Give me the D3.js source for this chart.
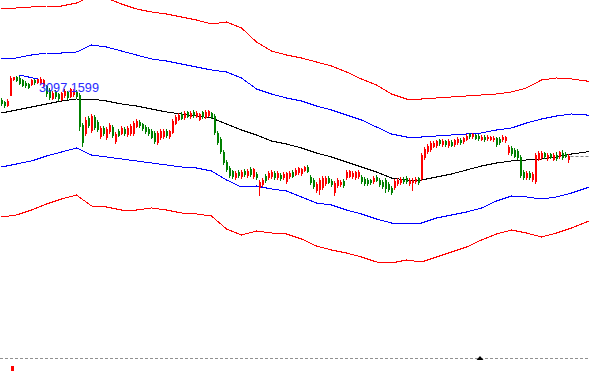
<!DOCTYPE html>
<html>
<head>
<meta charset="utf-8">
<script src="https://cdn.jsdelivr.net/npm/d3@7"></script>
<style>
  html, body { margin: 0; padding: 0; background: #fff; }
  svg { display: block; }
</style>
</head>
<body>
<svg id="chart"></svg>
<script>
// candles, one per bar, oldest first
const open = [
  3073, 3071, 3067, 3077, 3093, 3096, 3095, 3093, 3090, 3089,
  3088, 3093, 3090, 3089, 3087, 3087, 3083, 3074, 3081, 3079,
  3073, 3077, 3081, 3076, 3078, 3081, 3078, 3048, 3039, 3055,
  3042, 3056, 3051, 3036, 3045, 3035, 3041, 3046, 3031, 3042,
  3039, 3044, 3038, 3039, 3039, 3046, 3051, 3049, 3046, 3044,
  3042, 3040, 3030, 3035, 3036, 3042, 3036, 3040, 3049, 3053,
  3059, 3055, 3061, 3056, 3061, 3056, 3053, 3061, 3055, 3057,
  3060, 3057, 3040, 3034, 3021, 3011, 3005, 3002, 2995, 3001,
  2996, 3002, 2997, 3004, 2996, 2999, 2985, 2988, 2997, 2995,
  2996, 3000, 2995, 2998, 2995, 2991, 2996, 3001, 2998, 3000,
  2999, 3002, 3006, 2996, 2993, 2982, 2983, 2985, 2989, 2995,
  2992, 2980, 2987, 2988, 2992, 2995, 2996, 2996, 2995, 2996,
  2996, 2994, 2993, 2993, 2991, 2996, 2993, 2991, 2993, 2989,
  2985, 2985, 2989, 2990, 2994, 2995, 2989, 2990, 2991, 2995,
  2994, 3015, 3021, 3023, 3026, 3027, 3033, 3028, 3032, 3027,
  3031, 3028, 3030, 3033, 3031, 3033, 3039, 3036, 3038, 3037,
  3033, 3036, 3034, 3033, 3033, 3035, 3034, 3033, 3032, 3020,
  3025, 3023, 3022, 3016, 3001, 2995, 3000, 2993, 2991, 3013,
  3015, 3020, 3014, 3019, 3013, 3018, 3016, 3020, 3019, 3013
];
const high = [
  3075, 3072, 3074, 3097.1599, 3096, 3097, 3097, 3094, 3092, 3090,
  3094, 3094, 3095, 3096, 3094, 3088, 3085, 3082, 3083, 3080,
  3081, 3084, 3082, 3085, 3084, 3083, 3080, 3050, 3056, 3057,
  3059, 3058, 3053, 3047, 3047, 3046, 3050, 3048, 3041, 3044,
  3047, 3046, 3047, 3049, 3052, 3054, 3053, 3050, 3048, 3046,
  3044, 3042, 3042, 3044, 3044, 3044, 3043, 3054, 3058, 3060,
  3061, 3062, 3062, 3062, 3063, 3062, 3060, 3062, 3063, 3063,
  3061, 3059, 3042, 3036, 3023, 3013, 3007, 3003, 3002, 3003,
  3003, 3004, 3004, 3006, 3005, 3001, 2993, 2995, 2999, 3002,
  3003, 3002, 3002, 3000, 3001, 3001, 3002, 3003, 3005, 3006,
  3005, 3007, 3008, 2998, 2995, 2991, 2995, 2997, 2997, 2997,
  2994, 2992, 2995, 2993, 2994, 3003, 3003, 3002, 3002, 3003,
  2998, 2996, 2995, 2994, 2997, 2998, 2995, 2993, 2995, 2991,
  2987, 2994, 2995, 2996, 2996, 2997, 2995, 2995, 2996, 2996,
  3020, 3026, 3029, 3032, 3032, 3033, 3034, 3034, 3033, 3034,
  3033, 3034, 3036, 3035, 3036, 3039, 3040, 3040, 3039, 3039,
  3038, 3038, 3038, 3037, 3037, 3036, 3036, 3038, 3037, 3028,
  3027, 3025, 3024, 3018, 3003, 3002, 3002, 3001, 3020, 3022,
  3022, 3021, 3020, 3020, 3020, 3021, 3022, 3023, 3021, 3019
];
const low = [
  3067, 3065, 3066, 3077, 3092, 3091, 3088, 3086, 3085, 3084,
  3087, 3088, 3089, 3088, 3086, 3076, 3073, 3073, 3074, 3072,
  3072, 3075, 3073, 3075, 3076, 3074, 3042, 3026, 3037, 3045,
  3040, 3043, 3041, 3034, 3037, 3033, 3039, 3035, 3029, 3036,
  3038, 3037, 3036, 3037, 3037, 3045, 3045, 3042, 3039, 3037,
  3034, 3029, 3028, 3033, 3034, 3035, 3034, 3039, 3048, 3052,
  3053, 3053, 3055, 3054, 3055, 3055, 3052, 3054, 3054, 3056,
  3054, 3038, 3028, 3019, 3008, 3001, 2995, 2994, 2993, 2995,
  2994, 2996, 2995, 2996, 2994, 2993, 2977, 2986, 2990, 2993,
  2994, 2993, 2993, 2992, 2993, 2989, 2994, 2995, 2997, 2998,
  2997, 3001, 3000, 2988, 2984, 2980, 2978, 2983, 2987, 2989,
  2986, 2977, 2985, 2986, 2985, 2993, 2995, 2994, 2993, 2994,
  2989, 2987, 2987, 2988, 2989, 2991, 2986, 2984, 2980, 2981,
  2978, 2983, 2987, 2988, 2989, 2989, 2987, 2982, 2989, 2988,
  2992, 3013, 3019, 3021, 3025, 3025, 3027, 3026, 3026, 3025,
  3026, 3026, 3028, 3028, 3029, 3032, 3034, 3034, 3033, 3032,
  3032, 3031, 3032, 3032, 3031, 3026, 3028, 3031, 3030, 3018,
  3017, 3015, 3013, 2995, 2993, 2993, 2993, 2991, 2989, 3012,
  3013, 3014, 3012, 3014, 3012, 3012, 3014, 3013, 3015, 3010
];
const close = [
  3069, 3067, 3072, 3095, 3096, 3092, 3089, 3087, 3087, 3085,
  3093, 3090, 3094, 3094, 3093, 3079, 3075, 3080, 3076, 3074,
  3080, 3082, 3075, 3084, 3082, 3076, 3046, 3030, 3053, 3047,
  3057, 3045, 3043, 3045, 3039, 3044, 3048, 3037, 3039, 3037,
  3045, 3039, 3045, 3047, 3050, 3052, 3047, 3044, 3041, 3039,
  3035, 3031, 3040, 3042, 3042, 3037, 3042, 3052, 3056, 3058,
  3054, 3060, 3056, 3060, 3057, 3060, 3059, 3056, 3061, 3062,
  3055, 3040, 3030, 3021, 3010, 3003, 2997, 2996, 3000, 2997,
  3001, 2998, 3002, 2998, 3004, 2995, 2991, 2993, 2992, 3000,
  3001, 2995, 3000, 2994, 2999, 3000, 3000, 2996, 3003, 3005,
  3004, 3006, 3001, 2990, 2986, 2989, 2993, 2995, 2995, 2990,
  2988, 2990, 2993, 2991, 2987, 3001, 3002, 3000, 3001, 3001,
  2991, 2989, 2989, 2990, 2995, 2992, 2988, 2986, 2984, 2983,
  2980, 2992, 2993, 2994, 2991, 2991, 2993, 2993, 2994, 2990,
  3018, 3024, 3027, 3030, 3030, 3032, 3029, 3032, 3028, 3032,
  3027, 3033, 3034, 3030, 3035, 3037, 3036, 3039, 3034, 3034,
  3036, 3033, 3036, 3036, 3035, 3028, 3030, 3036, 3036, 3026,
  3019, 3016, 3015, 2997, 2995, 3000, 2995, 2999, 3018, 3020,
  3020, 3016, 3018, 3015, 3018, 3014, 3021, 3015, 3016, 3017
];

// band readings, taken every 5 bars
const bandBars = [
  0, 5, 10, 15, 20, 25, 30, 35, 40, 45, 50, 55, 60, 65, 70, 75, 80, 85, 90, 95,
  100, 105, 110, 115, 120, 125, 130, 135, 140, 145, 150, 155, 160, 165, 170, 175, 180, 185, 190, 195, 196
];
const midLine = [
  3060, 3063, 3066, 3069, 3072, 3074, 3074, 3072, 3069, 3067, 3064, 3061, 3059, 3057, 3055, 3049, 3043, 3038, 3032, 3029,
  3025, 3020, 3016, 3011, 3006, 3001, 2995, 2993, 2993, 2996, 2999, 3003, 3007, 3010, 3012, 3013, 3014, 3016, 3019, 3021, 3022
];
const upperInner = [
  3114, 3115, 3118, 3120, 3120, 3121, 3128, 3126, 3122, 3118, 3114, 3112, 3109, 3106, 3103, 3101, 3095, 3084, 3079, 3075,
  3072, 3067, 3063, 3058, 3053, 3046, 3039, 3036, 3036, 3037, 3038, 3039, 3040, 3043, 3045, 3050, 3054, 3057, 3059, 3058, 3058
];
const lowerInner = [
  3006, 3009, 3012, 3017, 3021, 3025, 3018, 3016, 3014, 3012, 3010, 3008, 3006, 3005, 3002, 2993, 2986, 2987, 2984, 2982,
  2976, 2970, 2968, 2963, 2959, 2954, 2950, 2950, 2950, 2955, 2958, 2961, 2965, 2972, 2977, 2976, 2974, 2976, 2980, 2985, 2986
];
const upperOuter = [
  3164, 3165, 3166, 3167, 3167, 3170, 3177, 3175, 3169, 3164, 3161, 3159, 3156, 3153, 3149, 3151, 3145, 3131, 3122, 3118,
  3115, 3111, 3107, 3101, 3094, 3088, 3079, 3074, 3074, 3075, 3076, 3077, 3078, 3079, 3081, 3085, 3093, 3095, 3094, 3092, 3091
];
const lowerOuter = [
  2956, 2958, 2963, 2969, 2974, 2978, 2967, 2966, 2963, 2963, 2965, 2963, 2960, 2959, 2957, 2944, 2938, 2942, 2940, 2939,
  2934, 2927, 2923, 2920, 2916, 2911, 2910, 2913, 2911, 2916, 2921, 2926, 2933, 2939, 2943, 2940, 2936, 2940, 2945, 2951, 2952
];

// objects drawn on the chart
const highLabel = "3097.1599";
const labelBar = 12.5;
const trendBars = [6, 12];
const trendPrices = [3098, 3094];
const markerBar = 159.5;
const subBarIdx = 3.5;

const W = 589, H = 371;
const sepY = 358;

const svg = d3.select("#chart").attr("width", W).attr("height", H);
svg.append("rect").attr("width", W).attr("height", H).attr("fill", "#fff");

const x = d3.scaleLinear().domain([0, 189]).range([1.5, 568.5]);
const y = d3.scaleLinear().domain([3173, 2802]).range([0, 371]);

const line = d3.line()
  .x(d => x(d[0]))
  .y(d => y(d[1]));

const bands = [
  {vals: upperOuter, color: "#ff0000"},
  {vals: lowerOuter, color: "#ff0000"},
  {vals: upperInner, color: "#0000ff"},
  {vals: lowerInner, color: "#0000ff"},
  {vals: midLine, color: "#000000"}
];
bands.forEach(b => {
  svg.append("path")
    .attr("d", line(bandBars.map((bi, k) => [bi, b.vals[k]])))
    .attr("fill", "none")
    .attr("stroke", b.color)
    .attr("stroke-width", 1)
    .attr("shape-rendering", "crispEdges");
});

// candles
const up = i => close[i] >= open[i];
const cg = svg.append("g").attr("shape-rendering", "crispEdges");
cg.selectAll("line")
  .data(close)
  .join("line")
    .attr("x1", (d, i) => x(i))
    .attr("x2", (d, i) => x(i))
    .attr("y1", (d, i) => y(high[i]))
    .attr("y2", (d, i) => y(low[i]))
    .attr("stroke", (d, i) => up(i) ? "#ff0000" : "#008000");
cg.selectAll("rect")
  .data(close)
  .join("rect")
    .attr("x", (d, i) => x(i) - 0.5)
    .attr("width", 2)
    .attr("y", (d, i) => y(Math.max(open[i], close[i])))
    .attr("height", (d, i) => Math.max(1, Math.abs(y(open[i]) - y(close[i]))))
    .attr("fill", (d, i) => up(i) ? "#ff0000" : "#008000");

// trend line at the high
svg.append("path")
  .attr("d", line(trendBars.map((b, k) => [b, trendPrices[k]])))
  .attr("fill", "none")
  .attr("stroke", "#0000ff")
  .attr("stroke-width", 1)
  .attr("shape-rendering", "crispEdges");

svg.append("text")
  .attr("x", x(labelBar))
  .attr("y", y(high[3]) + 16)
  .attr("fill", "#2a2aff")
  .style("font", "12.7px 'Liberation Sans', Arial, sans-serif")
  .text(highLabel);

// last price line
const last = close.length - 1;
svg.append("line")
  .attr("x1", x(last) + 2).attr("x2", W)
  .attr("y1", Math.round(y(close[last])) + 0.5)
  .attr("y2", Math.round(y(close[last])) + 0.5)
  .attr("stroke", "#808080")
  .attr("stroke-dasharray", "3,2");

// lower pane
svg.append("line")
  .attr("x1", 0).attr("x2", W)
  .attr("y1", sepY + 0.5).attr("y2", sepY + 0.5)
  .attr("stroke", "#909090")
  .attr("stroke-dasharray", "3,2");

const mx = x(markerBar);
svg.append("path")
  .attr("d", `M${mx - 3.5},${sepY + 2}L${mx},${sepY - 2}L${mx + 3.5},${sepY + 2}Z`)
  .attr("fill", "#000");

svg.append("rect")
  .attr("x", x(subBarIdx) - 1)
  .attr("y", 366)
  .attr("width", 3)
  .attr("height", 5)
  .attr("fill", "#ff0000");
</script>
</body>
</html>
